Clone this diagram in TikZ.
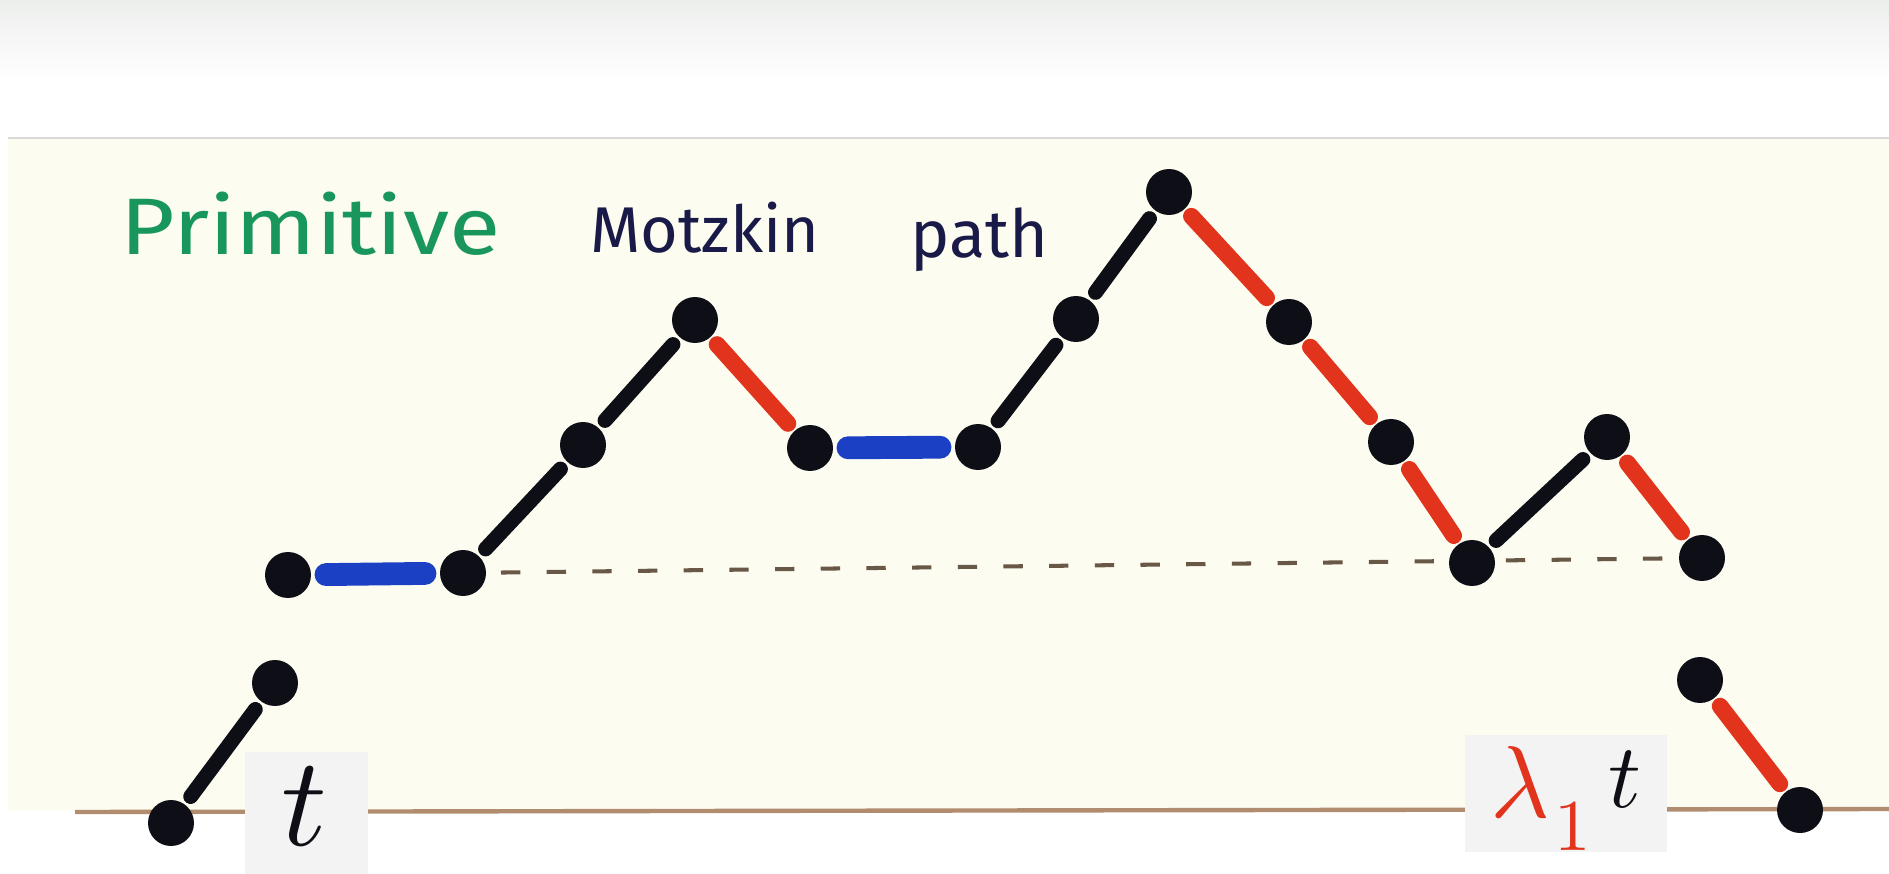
\documentclass[tikz,border=0pt]{standalone}
\usepackage{fontspec}
\newfontfamily\hand{Fira Sans}
\definecolor{paper}{RGB}{252,252,241}
\definecolor{ink}{RGB}{14,14,22}
\definecolor{mred}{RGB}{226,52,28}
\definecolor{mblue}{RGB}{28,64,196}
\definecolor{mgreen}{RGB}{24,150,92}
\definecolor{navy}{RGB}{26,26,72}
\definecolor{dashc}{RGB}{105,88,70}
\definecolor{basec}{RGB}{178,140,110}
\definecolor{boxc}{RGB}{243,243,243}
\definecolor{topgrey}{RGB}{236,238,236}
\pgfdeclarelayer{paperlayer}
\pgfdeclarelayer{under}
\pgfsetlayers{paperlayer,under,main}
\begin{document}
\begin{tikzpicture}[x=0.02cm,y=-0.02cm,
  dot/.style={circle,fill=ink,inner sep=0pt,outer sep=0pt,minimum size=0.92cm},
  upstep/.style={draw=ink,line width=8.5pt,line cap=round,shorten <=0.2cm,shorten >=0.2cm},
  downstep/.style={draw=mred,line width=9.5pt,line cap=round,shorten <=0.2cm,shorten >=0.2cm},
  flatstep/.style={draw=mblue,line width=13pt,line cap=round,shorten <=0.3cm,shorten >=0.3cm},
  levelline/.style={draw=dashc,line width=2.3pt,dash pattern=on 11pt off 15pt,shorten <=0.3cm,shorten >=0.3cm},
  labelbox/.style={fill=boxc,draw=none},
  title/.style={anchor=base west,inner sep=0pt}
]
\useasboundingbox (0,0) rectangle (1889,874);
% paper and background
\begin{pgfonlayer}{paperlayer}
  \fill[white] (0,0) rectangle (1889,874);
  \shade[top color=topgrey,bottom color=white] (0,0) rectangle (1889,80);
  \fill[paper] (8,138) rectangle (1889,811);
  \draw[gray!30,line width=1pt] (8,138) -- (1889,138);
\end{pgfonlayer}
\coordinate (b0) at (75,812);
\coordinate (b1) at (1889,809);
\begin{pgfonlayer}{under}
  \draw[basec,line width=2.5pt] (b0) -- (b1);
  \fill[labelbox] (245,752) rectangle (368,874);
  \fill[labelbox] (1465,735) rectangle (1667,852);
\end{pgfonlayer}

% title
\node[title,text=mgreen] (prim) at (120,255) {\resizebox{7.6cm}{1.25cm}{\hand Primitive}};
\node[title,text=navy] (motz) at (590,253) {\resizebox{4.58cm}{!}{\hand Motzkin}};
\node[title,text=navy] (path) at (910,258) {\resizebox{2.76cm}{!}{\hand path}};

% vertices
\node[dot] (A) at (171,823) {};
\node[dot] (B) at (275,683) {};
\node[dot] (C) at (288,575) {};
\node[dot] (D) at (463,573) {};
\node[dot] (E) at (583,445) {};
\node[dot] (F) at (695,320) {};
\node[dot] (G) at (810,448) {};
\node[dot] (H) at (978,447) {};
\node[dot] (I) at (1076,319) {};
\node[dot] (J) at (1169,192) {};
\node[dot] (K) at (1289,322) {};
\node[dot] (L) at (1391,442) {};
\node[dot] (M) at (1472,563) {};
\node[dot] (N) at (1607,437) {};
\node[dot] (O) at (1702,558) {};
\node[dot] (P) at (1700,680) {};
\node[dot] (Q) at (1800,810) {};

% level line
\begin{pgfonlayer}{under}
  \draw[levelline] (D) -- (O);
\end{pgfonlayer}

% steps
\draw[upstep] (A) -- (B);
\draw[flatstep] (C) -- (D);
\draw[upstep] (D) -- (E);
\draw[upstep] (E) -- (F);
\draw[downstep] (F) -- (G);
\draw[flatstep] (G) -- (H);
\draw[upstep] (H) -- (I);
\draw[upstep] (I) -- (J);
\draw[downstep] (J) -- (K);
\draw[downstep] (K) -- (L);
\draw[downstep] (L) -- (M);
\draw[upstep] (M) -- (N);
\draw[downstep] (N) -- (O);
\draw[downstep] (P) -- (Q);

% weights
\node[text=ink,inner sep=0pt] (tl) at (304,806) {\resizebox{!}{1.56cm}{$t$}};
\node[text=mred,inner sep=0pt] (lam) at (1520,782) {\resizebox{!}{1.42cm}{$\lambda$}};
\node[text=mred,inner sep=0pt] (one) at (1573,827) {\resizebox{!}{0.94cm}{$1$}};
\node[text=ink,inner sep=0pt] (tr) at (1625,780) {\resizebox{!}{1.12cm}{$t$}};
\end{tikzpicture}
\end{document}
